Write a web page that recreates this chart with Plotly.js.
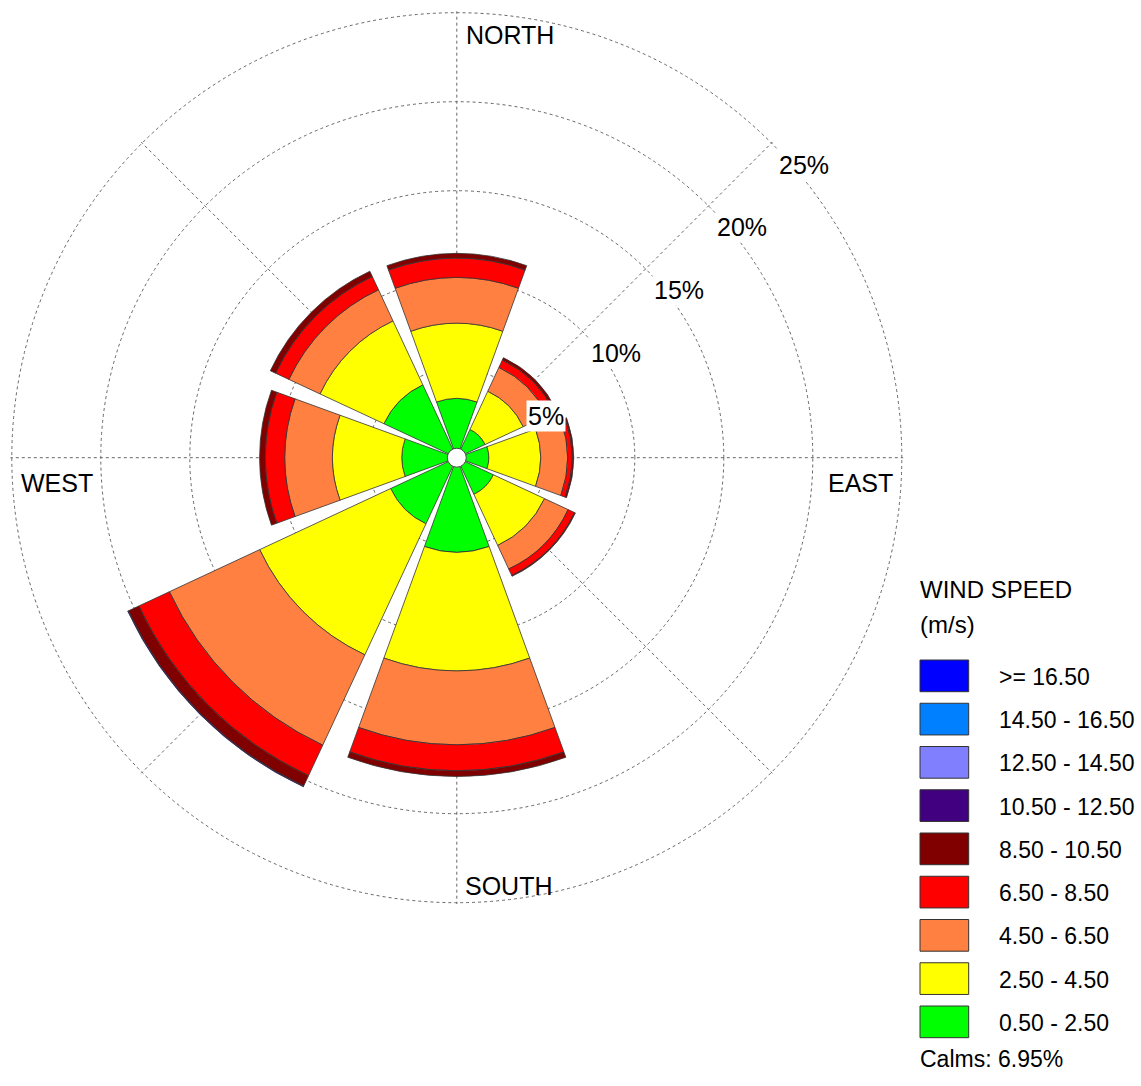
<!DOCTYPE html>
<html><head><meta charset="utf-8">
<script src="https://cdn.plot.ly/plotly-3.0.1.min.js"></script>
<style>html,body{margin:0;padding:0;background:#fff;}#chart{width:1141px;height:1086px;}</style>
</head><body><div id="chart"></div>
<script>
// ---- DATA ----
const directions = ['N','NE','E','SE','S','SW','W','NW'];
const compassLabels = ['NORTH','EAST','SOUTH','WEST'];
// speed bins, slowest first (stack order)
const speedBins = ['0.50 - 2.50','2.50 - 4.50','4.50 - 6.50','6.50 - 8.50','8.50 - 10.50','10.50 - 12.50','12.50 - 14.50','14.50 - 16.50','>= 16.50'];
const binColors = ['#00FF00','#FFFF00','#FF8040','#FF0000','#800000','#400080','#8080FF','#0080FF','#0000FF'];
// frequency (%) of each bin per direction (N, NE, E, SE, S, SW, W, NW)
const freq_0_5  = [3.33, 1.75, 1.80, 2.27, 5.31, 4.10, 3.09, 4.52];
const freq_2_5  = [4.23, 2.37, 2.91, 3.17, 6.67, 8.12, 3.89, 3.96];
const freq_4_5  = [2.57, 1.48, 1.51, 1.46, 4.15, 5.60, 2.69, 1.93];
const freq_6_5  = [1.09, 0.45, 0.26, 0.40, 1.46, 1.89, 1.09, 0.82];
const freq_8_5  = [0.26, 0.15, 0.08, 0.05, 0.32, 0.64, 0.32, 0.33];
const freq_10_5 = [0, 0, 0, 0, 0, 0.05, 0, 0];
const freq_12_5 = [0, 0, 0, 0, 0, 0, 0, 0];
const freq_14_5 = [0, 0, 0, 0, 0, 0, 0, 0];
const freq_16_5 = [0, 0, 0, 0, 0, 0, 0, 0];
const ringTicks = [5, 10, 15, 20, 25];
const calmsPct = 6.95;

const binFreqs = [freq_0_5, freq_2_5, freq_4_5, freq_6_5, freq_8_5, freq_10_5, freq_12_5, freq_14_5, freq_16_5];

// ---- LAYOUT CONSTANTS ----
const W = 1141, H = 1086;
const CX = 456.8, CY = 457.7, R = 445;          // pixel radius of the outermost ring
const sectorStep = 360 / directions.length;
const sectorWidth = 40;
const px = x => x / W;
const py = y => 1 - y / H;
const FONT = 'Liberation Sans, Arial, sans-serif';

const thetas = directions.map((d, i) => i * sectorStep);
const rmax = ringTicks[ringTicks.length - 1];
const rRangeMax = rmax * 1.003;                 // slightly past last ring so its grid circle is drawn
const Rdom = R * rRangeMax / rmax;

const traces = binFreqs.map((vals, k) => ({
  type: 'barpolar',
  name: speedBins[k],
  r: vals,
  theta: thetas,
  width: thetas.map(() => sectorWidth),
  marker: {color: binColors[k], line: {color: '#333333', width: 0.8}},
  showlegend: false,
  hoverinfo: 'skip'
}));

traces.push({
  type: 'scatterpolar', mode: 'markers', r: [0], theta: [0],
  marker: {size: 19, color: '#FFFFFF', line: {color: '#444', width: 1}},
  showlegend: false, hoverinfo: 'skip'
});

const annotations = [];
// ring labels along the 45 deg diagonal
ringTicks.forEach(t => {
  const rp = t / rmax * R;
  const x = CX + rp * Math.SQRT1_2, y = CY - rp * Math.SQRT1_2;
  annotations.push({
    xref: 'paper', yref: 'paper', x: px(x + 6), y: py(y + 21.5),
    xanchor: 'left', yanchor: 'middle', showarrow: false,
    text: t + '%', bgcolor: '#FFFFFF', borderpad: 1,
    font: {family: FONT, size: 25, color: '#000'}
  });
});
// compass labels
const compassPos = [[510, 35], [860, 483], [509, 886], [57, 483]];
compassLabels.forEach((lab, i) => {
  annotations.push({
    xref: 'paper', yref: 'paper', x: px(compassPos[i][0]), y: py(compassPos[i][1]),
    xanchor: 'center', yanchor: 'middle', showarrow: false, text: lab,
    font: {family: FONT, size: 25, color: '#000'}
  });
});
// legend
const LX = 920, boxW = 48.7, boxH = 31.7, rowTop = 660, rowPitch = 43.25, textX = 996.7;
annotations.push({xref:'paper', yref:'paper', x: px(LX - 2), y: py(590), xanchor:'left', yanchor:'middle', showarrow:false,
  text:'WIND SPEED', font:{family: FONT, size: 24, color:'#000'}});
annotations.push({xref:'paper', yref:'paper', x: px(LX - 2), y: py(624), xanchor:'left', yanchor:'middle', showarrow:false,
  text:'(m/s)', font:{family: FONT, size: 24, color:'#000'}});
const shapes = [];
const legendOrder = speedBins.map((b, k) => k).reverse();
legendOrder.forEach((k, row) => {
  const y0 = rowTop + row * rowPitch;
  shapes.push({type:'rect', xref:'paper', yref:'paper', x0: px(LX), x1: px(LX + boxW), y0: py(y0), y1: py(y0 + boxH),
    fillcolor: binColors[k], line:{color:'#333', width:1}});
  annotations.push({xref:'paper', yref:'paper', x: px(textX), y: py(y0 + boxH / 2 + 1), xanchor:'left', yanchor:'middle', showarrow:false,
    text: speedBins[k], font:{family: FONT, size: 23, color:'#000'}});
});
annotations.push({xref:'paper', yref:'paper', x: px(LX - 2), y: py(1059), xanchor:'left', yanchor:'middle', showarrow:false,
  text:'Calms: ' + calmsPct.toFixed(2) + '%', font:{family: FONT, size: 23, color:'#000'}});

const layout = {
  width: W, height: H,
  margin: {l:0, r:0, t:0, b:0},
  paper_bgcolor: '#FFFFFF',
  showlegend: false,
  font: {family: FONT},
  polar: {
    domain: {x: [px(CX - Rdom), px(CX + Rdom)], y: [py(CY + Rdom), py(CY - Rdom)]},
    bgcolor: 'rgba(0,0,0,0)',
    barmode: 'stack', bargap: 0,
    radialaxis: {range: [0, rRangeMax], tickmode:'array', tickvals: ringTicks, showticklabels: false, ticks: '',
      showline: false, gridcolor: '#666', gridwidth: 1, griddash: 'dot', layer: 'below traces'},
    angularaxis: {rotation: 90, direction: 'clockwise', tickmode: 'array', tickvals: thetas,
      showticklabels: false, ticks: '', showline: false, gridcolor: '#666', gridwidth: 1, griddash: 'dot', layer: 'below traces'}
  },
  shapes: shapes,
  annotations: annotations
};

Plotly.newPlot('chart', traces, layout, {staticPlot: true});
</script>
</body></html>
